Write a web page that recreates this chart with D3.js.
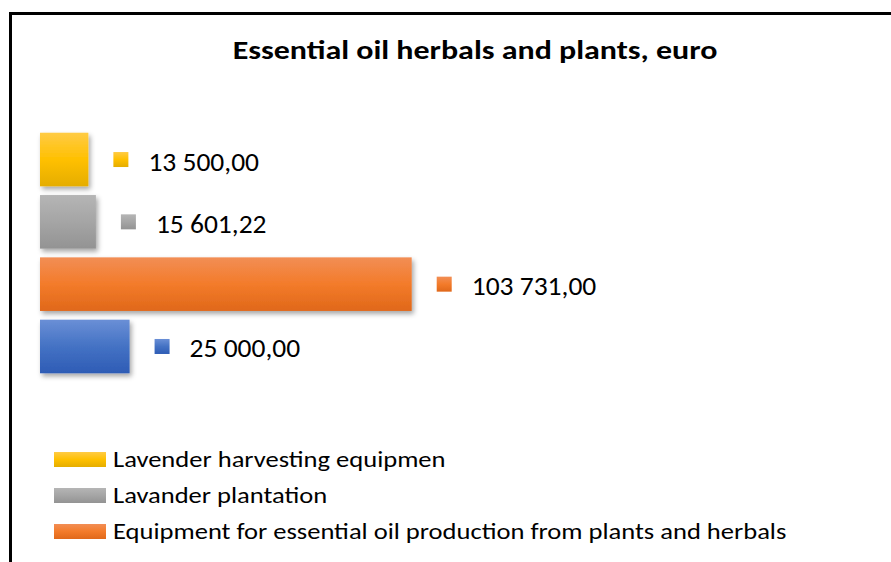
<!DOCTYPE html>
<html>
<head>
<meta charset="utf-8">
<script src="https://cdn.jsdelivr.net/npm/d3@7"></script>
<style>
  html, body { margin: 0; padding: 0; background: #fff; }
  svg { display: block; }
  text { font-family: Carlito, Calibri, "Open Sans", sans-serif; fill: #000; }
</style>
</head>
<body>
<svg id="chart" width="891" height="562"></svg>
<script>
// ---- data ----
const title = "Essential oil herbals and plants, euro";
const seriesNames = [
  "Lavender harvesting equipmen",
  "Lavander plantation",
  "Equipment for essential oil production from plants and herbals",
  ""
];
const seriesValues = [13500, 15601.22, 103731, 25000];
const legendCount = 3; // the fourth legend entry lies below the visible area
const seriesColors = [
  ["#FFCB45", "#FFC000", "#E5AD00"],
  ["#B5B5B5", "#A5A5A5", "#939393"],
  ["#F28E55", "#F37B2A", "#E0681A"],
  ["#6A8FD6", "#4472C4", "#2E5CB5"]
];

// ---- drawing ----
const svg = d3.select("#chart");
const defs = svg.append("defs");

seriesColors.forEach((c, i) => {
  const g = defs.append("linearGradient").attr("id", "grad" + i)
    .attr("x1", 0).attr("y1", 0).attr("x2", 0).attr("y2", 1);
  g.append("stop").attr("offset", "0%").attr("stop-color", c[0]);
  g.append("stop").attr("offset", "50%").attr("stop-color", c[1]);
  g.append("stop").attr("offset", "100%").attr("stop-color", c[2]);
});

const shadow = defs.append("filter").attr("id", "shadow")
  .attr("x", "-10%").attr("y", "-10%").attr("width", "130%").attr("height", "140%");
shadow.append("feDropShadow").attr("dx", 2).attr("dy", 3).attr("stdDeviation", 2.5)
  .attr("flood-color", "#000").attr("flood-opacity", 0.35);

// chart border
svg.append("rect")
  .attr("x", 10.5).attr("y", 13.5)
  .attr("width", 900).attr("height", 600)
  .attr("fill", "#fff").attr("stroke", "#000").attr("stroke-width", 3);

// title (stretched horizontally as in the reference)
svg.append("text")
  .attr("transform", "translate(475,59) scale(1.23,1)")
  .attr("text-anchor", "middle")
  .style("font-weight", "bold").style("font-size", "26px")
  .text(title);

const x = d3.scaleLinear().domain([0, 120000]).range([40, 470]);
const y = d3.scaleBand().domain(d3.range(seriesValues.length)).range([124, 382]).padding(0.14);

const locale = d3.formatLocale({ decimal: ",", thousands: "\u00a0", grouping: [3], currency: ["", ""] });
const fmt = locale.format(",.2f");

const bars = svg.append("g");
bars.selectAll("rect").data(seriesValues).join("rect")
  .attr("x", x(0))
  .attr("y", (d, i) => y(i))
  .attr("width", d => x(d) - x(0))
  .attr("height", y.bandwidth())
  .attr("fill", (d, i) => `url(#grad${i})`)
  .attr("filter", "url(#shadow)");

// data labels with legend key
const lab = svg.append("g").selectAll("g").data(seriesValues).join("g")
  .attr("transform", (d, i) => `translate(${x(d)},${y(i) + y.bandwidth() / 2})`);
lab.append("rect")
  .attr("x", 25).attr("y", -7.5).attr("width", 15).attr("height", 15)
  .attr("fill", (d, i) => `url(#grad${i})`);
lab.append("text")
  .attr("x", 60).attr("y", 11)
  .style("font-size", "27.5px")
  .text(d => fmt(d));

// legend
const leg = svg.append("g").selectAll("g").data(d3.range(legendCount)).join("g")
  .attr("transform", i => `translate(54,${452 + i * 36})`);
leg.append("rect")
  .attr("width", 52).attr("height", 15)
  .attr("fill", i => `url(#grad${i})`);
leg.append("text")
  .attr("transform", "translate(59,15) scale(1.18,1)")
  .style("font-size", "22.5px")
  .text(i => seriesNames[i]);
</script>
</body>
</html>
